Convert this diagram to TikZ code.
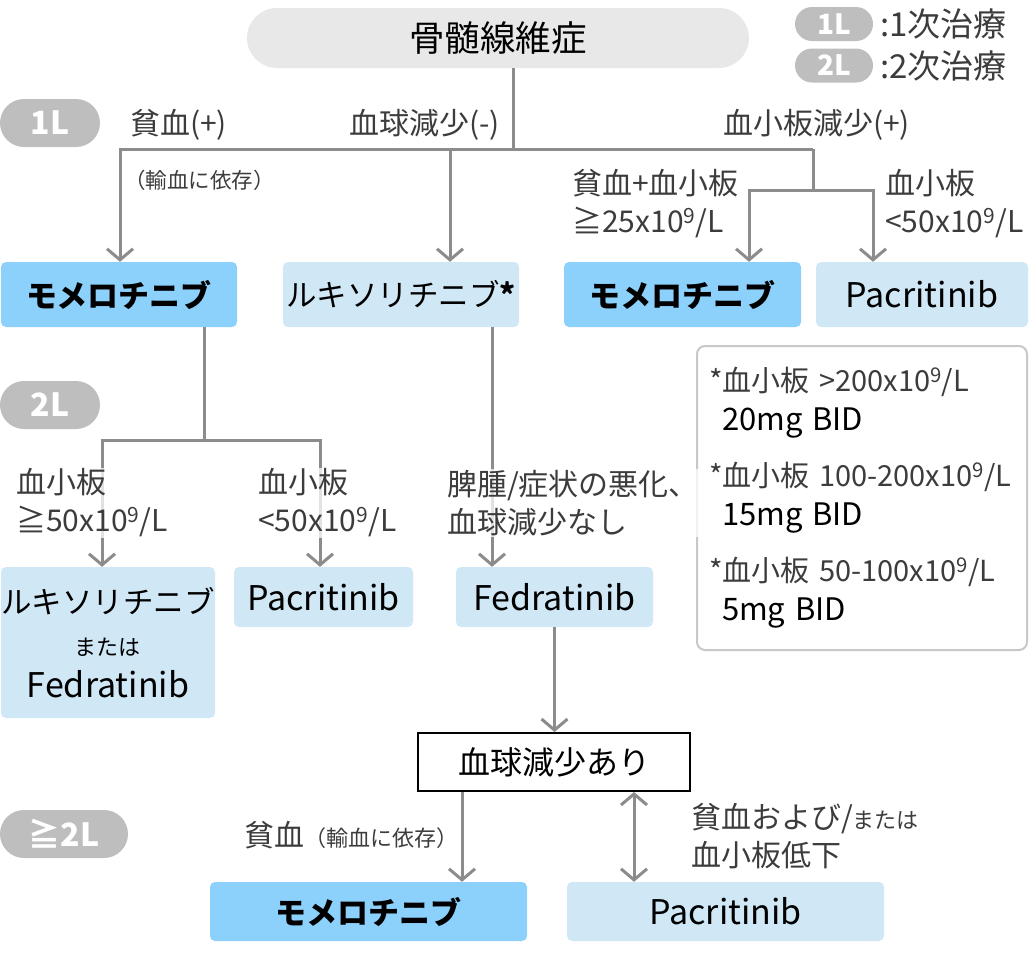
\documentclass[tikz,border=0pt]{standalone}
\usepackage{fontspec}
\setmainfont{Noto Sans CJK JP}
\usetikzlibrary{arrows.meta}
\definecolor{topgray}{RGB}{232,232,232}
\definecolor{pillgray}{RGB}{190,190,190}
\definecolor{darkbox}{RGB}{140,208,252}
\definecolor{lightbox}{RGB}{208,232,245}
\definecolor{linegray}{RGB}{140,140,140}
\definecolor{labgray}{RGB}{60,60,60}
\definecolor{dosegray}{RGB}{200,200,200}
\newcommand{\latinsize}{\fontsize{34}{42}\selectfont}
\tikzset{
  conn/.style={draw=linegray, line width=3pt},
  arr/.style={conn, -{Straight Barb[length=11pt,width=26pt]}},
  darr/.style={conn, {Straight Barb[length=11pt,width=26pt]}-{Straight Barb[length=11pt,width=26pt]}},
  boxdark/.style={fill=darkbox, rounded corners=5pt, inner sep=0pt, font=\fontsize{31}{36}\selectfont\bfseries},
  boxlight/.style={fill=lightbox, rounded corners=5pt, inner sep=0pt, font=\fontsize{30.5}{42}\selectfont, align=center},
  lab/.style={text=labgray, font=\fontsize{30}{38}\selectfont, align=left, inner sep=0pt},
  labbg/.style={lab, fill=white, fill opacity=0.75, text opacity=1, inner sep=1pt},
  pill/.style={fill=pillgray, text=white, inner sep=0pt, font=\fontsize{32}{34}\selectfont\bfseries},
}
\begin{document}
\begin{tikzpicture}[x=1pt,y=-1pt]
\useasboundingbox (0,0) rectangle (1029,954);

% top node
\node[fill=topgray, rounded corners=30pt, minimum width=502pt, minimum height=60pt, inner sep=0pt,
      font=\fontsize{35.5}{38}\selectfont] (top) at (498,38) {骨髄線維症};

% legend
\node[pill, rounded corners=17pt, minimum width=78pt, minimum height=34pt, font=\fontsize{28}{30}\selectfont\bfseries] (lg1) at (834,24) {1L};
\node[pill, rounded corners=17pt, minimum width=78pt, minimum height=34pt, font=\fontsize{28}{30}\selectfont\bfseries] (lg2) at (834,65.5) {2L};
\node[lab, font=\fontsize{33}{35}\selectfont, anchor=west] (lgt1) at (880,24) {:1次治療};
\node[lab, font=\fontsize{33}{35}\selectfont, anchor=west] (lgt2) at (880,65.5) {:2次治療};

% level pills
\node[pill, rounded corners=24pt, minimum width=100pt, minimum height=48pt] (p1L) at (50,123) {1L};
\node[pill, rounded corners=24pt, minimum width=100pt, minimum height=48pt] (p2L) at (50,405) {2L};
\node[pill, rounded corners=24pt, minimum width=128pt, minimum height=48pt] (p3L) at (64,834) {≧2L};

% 1L boxes
\node[boxdark, minimum width=236pt, minimum height=65pt] (m1) at (119,294.5) {モメロチニブ};
\node[boxlight, minimum width=236pt, minimum height=65pt] (r1) at (401,294.5) {ルキソリチニブ\textbf{*}};
\node[boxdark, minimum width=237pt, minimum height=65pt] (m2) at (682.5,294.5) {モメロチニブ};
\node[boxlight, minimum width=212pt, minimum height=65pt, font=\latinsize] (p1) at (922,294.5) {Pacritinib};

% 2L boxes
\node[boxlight, minimum width=214pt, minimum height=151pt] (r2) at (108,642.5)
  {ルキソリチニブ\\{\fontsize{22}{22}\selectfont または}\\{\latinsize Fedratinib}};
\node[boxlight, minimum width=179pt, minimum height=60pt, font=\latinsize] (p2) at (323.5,597) {Pacritinib};
\node[boxlight, minimum width=197pt, minimum height=60pt, font=\latinsize] (f2) at (554.5,597) {Fedratinib};

% >=2L
\node[draw=black, line width=2pt, fill=white, minimum width=272pt, minimum height=58pt, inner sep=0pt,
      font=\fontsize{32}{34}\selectfont] (cyt) at (554,762) {血球減少あり};
\node[boxdark, minimum width=317pt, minimum height=59pt] (m3) at (368.5,911.5) {モメロチニブ};
\node[boxlight, minimum width=317pt, minimum height=59pt, font=\latinsize] (p3) at (725.5,911.5) {Pacritinib};

% dosage box
\node[draw=dosegray, line width=2pt, rounded corners=8pt, fill=white, minimum width=330pt, minimum height=304pt,
      inner xsep=12pt, text width=306pt, align=left, font=\fontsize{29}{39}\selectfont] (dose) at (862,498)
  {\textcolor{labgray}{*血小板 >200x10\textsuperscript{9}/L}\\\hspace*{13pt}{\fontsize{31}{39}\selectfont 20mg BID}\\[17pt]
   \textcolor{labgray}{*血小板 100-200x10\textsuperscript{9}/L}\\\hspace*{13pt}{\fontsize{31}{39}\selectfont 15mg BID}\\[17pt]
   \textcolor{labgray}{*血小板 50-100x10\textsuperscript{9}/L}\\\hspace*{13pt}{\fontsize{31}{39}\selectfont 5mg BID}};

% junction coordinates
\coordinate (j1) at (513,149);
\coordinate (a1) at (120,149);
\coordinate (a2) at (450,149);
\coordinate (a3) at (813,149);
\coordinate (a4) at (813,190);
\coordinate (a5) at (749,190);
\coordinate (a6) at (873,190);
\coordinate (b0) at (204,440);
\coordinate (b1) at (102,440);
\coordinate (b2) at (320,440);
\coordinate (c1) at (492,0);
\coordinate (d1) at (462,0);
\coordinate (d2) at (634,0);

% connectors level 1
\draw[conn] (top.south -| j1) -- (j1);
\draw[arr] (a3) -- (a1) -- (a1 |- m1.north);
\draw[arr] (a2) -- (a2 |- r1.north);
\draw[conn] (a3) -- (a4);
\draw[arr] (a4) -- (a5) -- (a5 |- m2.north);
\draw[arr] (a4) -- (a6) -- (a6 |- p1.north);

% connectors level 2
\draw[conn] (m1.south -| b0) -- (b0);
\draw[arr] (b0) -- (b1) -- (b1 |- r2.north);
\draw[arr] (b0) -- (b2) -- (b2 |- p2.north);
\draw[arr] (r1.south -| c1) -- (c1 |- f2.north);
\draw[arr] (f2.south) -- (f2.south |- cyt.north);

% connectors level 3
\draw[arr] (cyt.south -| d1) -- (d1 |- m3.north);
\draw[darr] (cyt.south -| d2) -- (d2 |- p3.north);

% labels level 1
\node[lab, anchor=west] (l1) at (130,125) {貧血(+)};
\node[lab, anchor=east] (l2) at (500,125) {血球減少(-)};
\node[lab, anchor=west] (l3) at (723,125) {血小板減少(+)};
\node[lab, anchor=west, font=\fontsize{21.5}{24}\selectfont] (l4) at (124,180) {（輸血に依存）};
\node[lab, anchor=west] (l5) at (572,204) {貧血+血小板\\≧25x10\textsuperscript{9}/L};
\node[lab, anchor=west] (l6) at (885,204) {血小板\\<50x10\textsuperscript{9}/L};

% labels level 2
\node[labbg, anchor=west] (l7) at (15,503) {血小板\\≧50x10\textsuperscript{9}/L};
\node[labbg, anchor=west] (l8) at (257,503) {血小板\\<50x10\textsuperscript{9}/L};
\node[labbg, anchor=west] (l9) at (446,503) {脾腫/症状の悪化、\\血球減少なし};

% labels level 3
\node[lab, anchor=west] (l10) at (244,835) {貧血{\fontsize{22}{22}\selectfont （輸血に依存）}};
\node[lab, anchor=west] (l11) at (691,836) {貧血および/{\fontsize{22}{22}\selectfont または}\\血小板低下};

\end{tikzpicture}
\end{document}
